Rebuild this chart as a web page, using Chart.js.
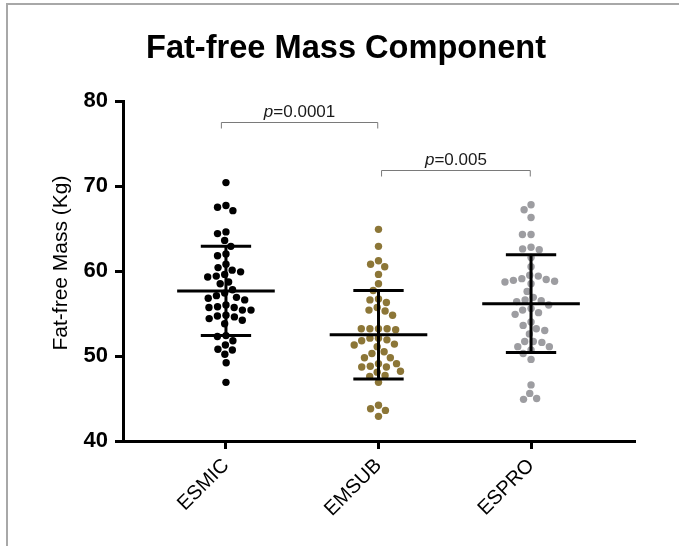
<!DOCTYPE html>
<html>
<head>
<meta charset="utf-8">
<title>Fat-free Mass Component</title>
<script src="https://cdn.jsdelivr.net/npm/chart.js@4.4.1/dist/chart.umd.min.js"></script>
<style>
  body { margin: 0; background: #fff; }
  #wrap { position: relative; width: 679px; height: 546px; }
  #frame { position: absolute; left: 6px; top: 3px; right: 0; bottom: 0;
           border-top: 2px solid #a8a8a8; border-left: 2px solid #a8a8a8; pointer-events: none; }
</style>
</head>
<body>
<div id="wrap">
  <canvas id="myChart" width="679" height="546"></canvas>
  <div id="frame"></div>
</div>
<script>
const chartTitle = 'Fat-free Mass Component';
const yTitle = 'Fat-free Mass (Kg)';
const groups = ['ESMIC', 'EMSUB', 'ESPRO'];
const colors = ['#000000', '#8c7637', '#9d9da1'];

// individual values
const esmic = [70.4, 67.5, 67.1, 67.7, 64.6, 64.4, 63.6, 62.9, 61.8, 62.0,
  60.8, 60.4, 60.1, 59.4, 59.6, 59.9, 59.3, 58.7, 58.5, 57.4,
  57.8, 56.9, 56.6, 56.8, 57.1, 56.0, 55.7, 55.4, 55.4, 55.7,
  55.8, 54.8, 54.4, 54.6, 54.2, 54.7, 53.8, 52.4, 52.3, 51.8,
  51.3, 50.7, 50.2, 50.8, 49.2, 46.9];
const emsub = [64.9, 62.9, 60.8, 61.2, 60.5, 59.6, 58.5, 57.7, 56.7, 56.3,
  56.6, 55.7, 55.3, 54.8, 55.4, 53.2, 53.2, 53.1, 53.2, 53.2,
  52.1, 51.9, 51.8, 52.1, 51.4, 51.1, 51.3, 50.3, 50.5, 49.8,
  49.8, 49.1, 48.7, 48.8, 49.1, 48.2, 48.7, 48.1, 47.7, 47.6,
  46.9, 43.8, 44.2, 43.6, 42.9];
const espro = [67.8, 67.2, 66.3, 64.3, 64.3, 62.8, 62.5, 62.6, 61.6, 60.5,
  59.4, 59.0, 58.8, 58.5, 58.7, 58.9, 59.1, 59.5, 57.6, 56.9,
  56.4, 56.6, 56.5, 56.0, 55.6, 55.4, 55.1, 54.9, 54.0, 53.6,
  53.2, 52.6, 53.0, 51.7, 51.1, 50.7, 51.1, 51.6, 51.7, 50.3,
  49.6, 46.6, 45.6, 44.9, 45.0];

// mean and SD as drawn
const means = [57.65, 52.5, 56.15];
const sds = [5.25, 5.2, 5.75];

// significance brackets
const comparisons = [
  { from: 0, to: 1, label: '0.0001' },
  { from: 1, to: 2, label: '0.005' }
];

const yTicks = [40, 50, 60, 70, 80];

// simple beeswarm so dots don't overlap (pixel-ish units)
function swarm(vals, pxPerX, pxPerY, d) {
  const order = vals.map((v, i) => i).sort((a, b) => vals[b] - vals[a]);
  const placed = [];
  const off = new Array(vals.length);
  order.forEach(i => {
    const py = vals[i] * pxPerY;
    const blocks = [];
    placed.forEach(p => {
      const gap = Math.abs(p.y - py);
      if (gap < d) {
        const w = Math.sqrt(d * d - gap * gap);
        blocks.push([p.x - w, p.x + w]);
      }
    });
    const cands = [0];
    blocks.forEach(b => cands.push(b[0], b[1]));
    cands.sort((a, b) => Math.abs(a) - Math.abs(b));
    const x = cands.find(c => blocks.every(b => c <= b[0] + 1e-6 || c >= b[1] - 1e-6));
    placed.push({ x: x, y: py });
    off[i] = x / pxPerX;
  });
  return off;
}

const allVals = [esmic, emsub, espro];
const datasets = allVals.map((vals, g) => {
  const off = swarm(vals, 152.5, 8.5, 8.6);
  return {
    label: groups[g],
    data: vals.map((v, i) => ({ x: g + 1 + off[i], y: v })),
    backgroundColor: colors[g],
    borderWidth: 0,
    pointRadius: 3.7
  };
});

const titles = {
  id: 'titles',
  afterDraw(chart) {
    const { ctx } = chart;
    ctx.save();
    ctx.fillStyle = '#000';
    ctx.font = 'bold 32.6px "Liberation Sans", Arial, sans-serif';
    ctx.textAlign = 'center';
    ctx.textBaseline = 'alphabetic';
    ctx.fillText(chartTitle, 346, 57.5);

    ctx.translate(61, 263);
    ctx.rotate(-Math.PI / 2);
    ctx.font = '21px "Liberation Sans", Arial, sans-serif';
    ctx.textBaseline = 'middle';
    ctx.fillText(yTitle, 0, 0);
    ctx.restore();
  }
};

// mean line + SD whiskers, drawn on top of the dots
const errorBars = {
  id: 'errorBars',
  afterDatasetsDraw(chart) {
    const { ctx, scales: { x, y } } = chart;
    ctx.save();
    ctx.strokeStyle = '#000';
    ctx.lineWidth = 3;
    ctx.lineCap = 'butt';
    means.forEach((m, g) => {
      const c = g + 1;
      const ym = y.getPixelForValue(m);
      const yt = y.getPixelForValue(m + sds[g]);
      const yb = y.getPixelForValue(m - sds[g]);
      ctx.beginPath();
      ctx.moveTo(x.getPixelForValue(c - 0.32), ym);
      ctx.lineTo(x.getPixelForValue(c + 0.32), ym);
      ctx.moveTo(x.getPixelForValue(c), yt);
      ctx.lineTo(x.getPixelForValue(c), yb);
      ctx.moveTo(x.getPixelForValue(c - 0.165), yt);
      ctx.lineTo(x.getPixelForValue(c + 0.165), yt);
      ctx.moveTo(x.getPixelForValue(c - 0.165), yb);
      ctx.lineTo(x.getPixelForValue(c + 0.165), yb);
      ctx.stroke();
    });
    ctx.restore();
  }
};

const brackets = {
  id: 'brackets',
  afterDraw(chart) {
    const { ctx, scales: { x, y } } = chart;
    const levels = [77.55, 71.9];
    ctx.save();
    comparisons.forEach((cmp, k) => {
      const x1 = x.getPixelForValue(cmp.from + 1 + (k === 0 ? -0.03 : 0.02));
      const x2 = x.getPixelForValue(cmp.to + 1 - 0.005);
      const yl = Math.round(y.getPixelForValue(levels[k])) + 0.5;
      ctx.strokeStyle = '#7a7a7a';
      ctx.lineWidth = 1;
      ctx.beginPath();
      ctx.moveTo(x1, yl + 6);
      ctx.lineTo(x1, yl);
      ctx.lineTo(x2, yl);
      ctx.lineTo(x2, yl + 6);
      ctx.stroke();

      ctx.fillStyle = '#1a1a1a';
      ctx.textBaseline = 'alphabetic';
      ctx.font = 'italic 17px "Liberation Sans", Arial, sans-serif';
      const wp = ctx.measureText('p').width;
      ctx.font = '17px "Liberation Sans", Arial, sans-serif';
      const rest = '=' + cmp.label;
      const wr = ctx.measureText(rest).width;
      const start = (x1 + x2) / 2 - (wp + wr) / 2;
      ctx.font = 'italic 17px "Liberation Sans", Arial, sans-serif';
      ctx.textAlign = 'left';
      ctx.fillText('p', start, yl - 6);
      ctx.font = '17px "Liberation Sans", Arial, sans-serif';
      ctx.fillText(rest, start + wp, yl - 6);
    });
    ctx.restore();
  }
};

const ctx = document.getElementById('myChart').getContext('2d');
const myChart = new Chart(ctx, {
  type: 'scatter',
  data: { datasets: datasets },
  options: {
    responsive: false,
    animation: false,
    layout: { padding: { left: 0, right: 45, top: 101, bottom: 0 } },
    plugins: {
      legend: { display: false },
      tooltip: { enabled: false },
      title: { display: false }
    },
    scales: {
      x: {
        type: 'linear',
        min: 0.325,
        max: 3.675,
        afterBuildTicks(scale) {
          scale.ticks = groups.map((g, i) => ({ value: i + 1 }));
        },
        afterFit(scale) { scale.height = 105; },
        ticks: {
          autoSkip: false,
          minRotation: 45,
          maxRotation: 45,
          padding: 5,
          color: '#000',
          font: { family: '"Liberation Sans", Arial, sans-serif', size: 20 },
          callback: (v) => groups[Math.round(v) - 1]
        },
        grid: { drawOnChartArea: false, drawTicks: true, tickLength: 8, lineWidth: 3, color: '#000' },
        border: { color: '#000', width: 3 }
      },
      y: {
        min: 40,
        max: 80,
        afterBuildTicks(scale) {
          scale.ticks = yTicks.map(v => ({ value: v }));
        },
        afterFit(scale) { scale.width = 123; },
        ticks: {
          padding: 7,
          color: '#000',
          font: { family: '"Liberation Sans", Arial, sans-serif', size: 22, weight: 'bold' }
        },
        grid: { drawOnChartArea: false, drawTicks: true, tickLength: 8, lineWidth: 3, color: '#000' },
        border: { color: '#000', width: 3 }
      }
    }
  },
  plugins: [errorBars, brackets, titles]
});
</script>
</body>
</html>
